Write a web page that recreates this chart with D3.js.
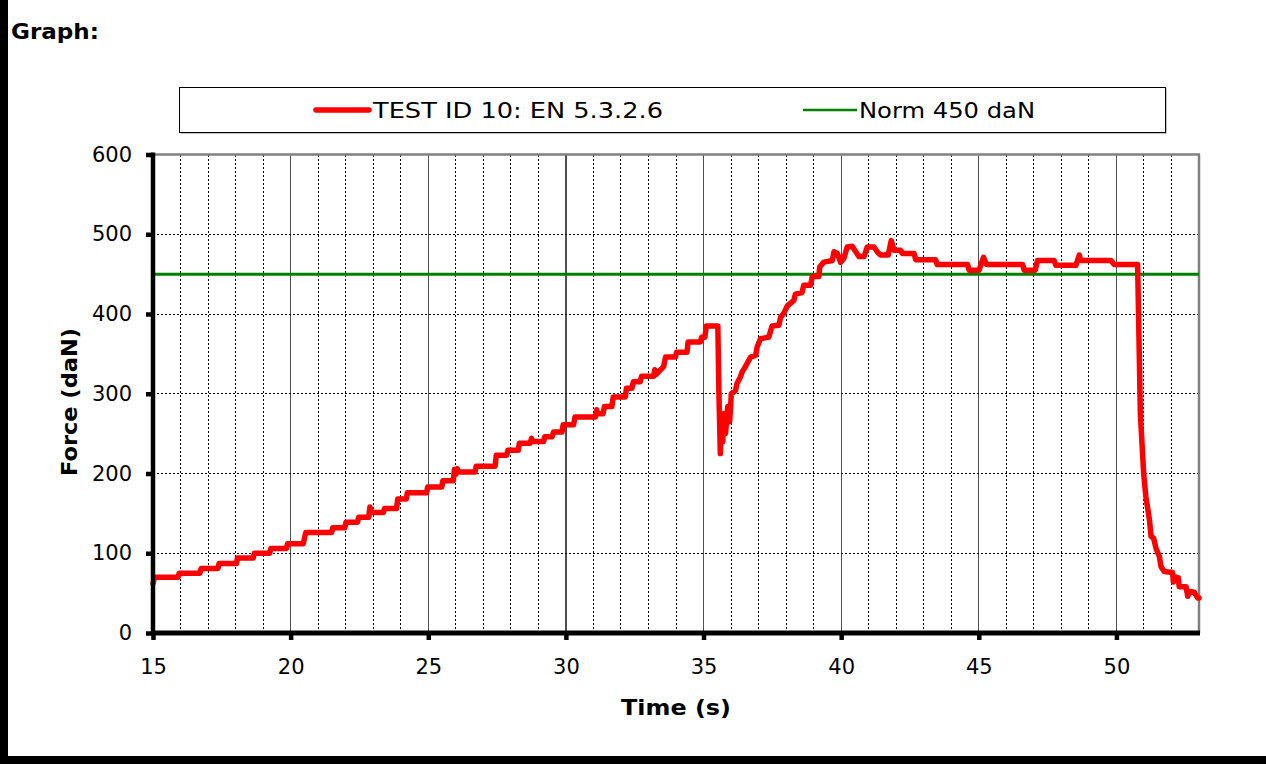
<!DOCTYPE html>
<html>
<head>
<meta charset="utf-8">
<script src="https://cdn.jsdelivr.net/npm/d3@7/dist/d3.min.js"></script>
<style>
  html, body { margin: 0; padding: 0; background: #fff; }
  svg { display: block; }
</style>
</head>
<body>
<script>
// ---- data ----
const seriesName = "TEST ID 10: EN 5.3.2.6";
const normName = "Norm 450 daN";
const normValue = 450;
const xTicks = [15, 20, 25, 30, 35, 40, 45, 50];
const yTicks = [0, 100, 200, 300, 400, 500, 600];
const times = [15.00,15.05,15.91,15.95,16.70,16.75,17.36,17.40,18.03,18.07,18.64,18.68,19.24,19.28,19.85,19.89,20.46,20.55,21.49,21.53,21.97,22.01,22.43,22.47,22.84,22.88,22.93,23.37,23.41,23.85,23.89,24.20,24.24,24.94,24.98,25.49,25.53,25.91,25.95,26.00,26.05,26.10,26.70,26.74,27.43,27.47,27.85,27.89,28.27,28.31,28.70,28.75,28.80,29.19,29.23,29.50,29.55,29.86,29.90,30.28,30.33,31.07,31.12,31.16,31.35,31.40,31.67,31.72,32.16,32.20,32.40,32.45,32.70,32.75,33.19,33.23,33.27,33.55,33.62,33.98,34.02,34.40,34.44,34.89,34.93,35.05,35.10,35.52,35.56,35.61,35.66,35.70,35.73,35.80,35.88,35.95,36.01,36.16,36.22,36.34,36.40,36.52,36.71,36.89,36.95,37.07,37.37,37.49,37.74,37.80,37.92,38.04,38.28,38.34,38.58,38.64,38.89,38.95,39.19,39.22,39.37,39.68,39.74,39.86,39.98,40.10,40.22,40.40,40.53,40.65,40.83,40.95,41.19,41.31,41.43,41.71,41.82,41.92,42.16,42.22,42.65,42.71,43.43,43.49,44.59,44.65,45.01,45.17,45.28,46.59,46.65,47.05,47.13,47.74,47.80,48.53,48.65,48.71,49.80,49.92,50.77,50.83,50.87,50.99,51.07,51.20,51.26,51.35,51.44,51.56,51.62,51.74,52.04,52.07,52.16,52.25,52.28,52.53,52.59,52.65,52.83,52.95,53.00];
const forces = [62,70,70,75,75,81,81,87,87,94,94,100,100,106,106,112,112,126,126,132,132,139,139,145,145,158,151,151,156,156,168,168,176,176,183,183,191,191,205,199,206,202,202,209,209,223,223,229,229,238,238,244,240,240,246,246,252,252,261,261,271,271,280,275,275,284,284,296,296,307,307,315,315,322,322,330,324,334,346,346,352,352,365,365,371,371,385,385,300,225,275,240,275,250,284,265,300,304,313,321,327,334,346,348,359,369,371,385,386,396,401,410,417,425,427,436,436,447,447,459,465,467,478,476,465,470,484,485,478,472,472,484,484,478,474,474,492,480,480,476,476,468,468,462,462,455,455,471,462,462,455,455,467,467,461,461,474,467,467,462,462,350,275,200,171,142,121,119,106,96,83,77,76,64,70,69,58,58,46,52,51,44,44];

// ---- layout ----
const W = 1266, H = 764;
const L = 153, R = 1199, T = 154.5, B = 633;
const FONT = "Verdana, 'DejaVu Sans', sans-serif";

const svg = d3.select("body").append("svg").attr("width", W).attr("height", H)
  .style("font-family", FONT);

svg.append("rect").attr("width", W).attr("height", H).attr("fill", "#fff");

// page border (left & bottom)
svg.append("rect").attr("x", 0).attr("y", 0).attr("width", 8).attr("height", H).attr("fill", "#000");
svg.append("rect").attr("x", 0).attr("y", 756).attr("width", W).attr("height", 8).attr("fill", "#000");

svg.append("text").attr("x", 11).attr("y", 39).attr("font-weight", "bold").attr("font-size", 22)
  .attr("textLength", 88).attr("lengthAdjust", "spacingAndGlyphs")
  .attr("fill", "#000").text("Graph:");

const x = d3.scaleLinear().domain([15, 53]).range([L, R]);
const y = d3.scaleLinear().domain([0, 600]).range([B, T]);

// grid
const g = svg.append("g");
const minorX = d3.range(16, 53, 1).filter(v => v % 5 !== 0);
g.selectAll(".vmin").data(minorX).enter().append("line")
  .attr("x1", d => x(d)).attr("x2", d => x(d)).attr("y1", T).attr("y2", B)
  .attr("stroke", "#000").attr("stroke-width", 1).attr("stroke-dasharray", "2,2")
  .attr("shape-rendering", "crispEdges");
g.selectAll(".vmaj").data(xTicks.filter(v => v > 15)).enter().append("line")
  .attr("x1", d => x(d)).attr("x2", d => x(d)).attr("y1", T).attr("y2", B)
  .attr("stroke", "#505050").attr("stroke-width", 1.3).attr("shape-rendering", "crispEdges");
g.selectAll(".hgrid").data(yTicks.filter(v => v > 0 && v < 600)).enter().append("line")
  .attr("x1", L).attr("x2", R).attr("y1", d => y(d)).attr("y2", d => y(d))
  .attr("stroke", "#000").attr("stroke-width", 1).attr("stroke-dasharray", "2,2")
  .attr("shape-rendering", "crispEdges");

// top & right border
svg.append("line").attr("x1", L).attr("x2", R + 1).attr("y1", T).attr("y2", T)
  .attr("stroke", "#808080").attr("stroke-width", 2.5);
svg.append("line").attr("x1", R).attr("x2", R).attr("y1", T).attr("y2", B)
  .attr("stroke", "#808080").attr("stroke-width", 2.5);

// series
const pts = times.map((t, i) => [t, forces[i]]);
const line = d3.line().x(d => x(d[0])).y(d => y(d[1]));
svg.append("line").attr("x1", L).attr("x2", R).attr("y1", y(normValue)).attr("y2", y(normValue))
  .attr("stroke", "#008000").attr("stroke-width", 3);
svg.append("path").datum(pts).attr("d", line).attr("fill", "none")
  .attr("stroke", "#ff0000").attr("stroke-width", 5.5)
  .attr("stroke-linejoin", "round").attr("stroke-linecap", "round");

// axes
const yAxis = d3.axisLeft(y).tickValues(yTicks).tickSize(7).tickPadding(14).tickFormat(d3.format("d"));
const ya = svg.append("g").attr("transform", `translate(${L},0)`).call(yAxis);
ya.select(".domain").attr("stroke", "#000").attr("stroke-width", 4.5).attr("d", `M0,${T - 2}V${B + 2}`);
ya.selectAll(".tick line").attr("stroke", "#000").attr("stroke-width", 4.5);
ya.selectAll("text").attr("font-size", 21).attr("fill", "#000").attr("font-family", FONT);

const xAxis = d3.axisBottom(x).tickValues(xTicks).tickSize(7).tickPadding(19).tickFormat(d3.format("d"));
const xa = svg.append("g").attr("transform", `translate(0,${B})`).call(xAxis);
xa.select(".domain").attr("stroke", "#000").attr("stroke-width", 5).attr("d", `M${L - 2},0H${R + 1}`);
xa.selectAll(".tick line").attr("stroke", "#000").attr("stroke-width", 4.5);
xa.selectAll("text").attr("font-size", 21).attr("fill", "#000").attr("font-family", FONT);

// axis titles
svg.append("text").attr("x", 676).attr("y", 715).attr("text-anchor", "middle")
  .attr("font-weight", "bold").attr("font-size", 22)
  .attr("textLength", 110).attr("lengthAdjust", "spacingAndGlyphs").text("Time (s)");
svg.append("text").attr("transform", `translate(77,402) rotate(-90)`).attr("text-anchor", "middle")
  .attr("font-weight", "bold").attr("font-size", 22)
  .attr("textLength", 148).attr("lengthAdjust", "spacingAndGlyphs").text("Force (daN)");

// legend
const lg = svg.append("g");
lg.append("rect").attr("x", 180.5).attr("y", 88.5).attr("width", 986).attr("height", 45)
  .attr("fill", "#808080");
lg.append("rect").attr("x", 179.5).attr("y", 87.5).attr("width", 986).attr("height", 45)
  .attr("fill", "#fff").attr("stroke", "#000").attr("stroke-width", 1);
lg.append("line").attr("x1", 316).attr("x2", 369).attr("y1", 110).attr("y2", 110)
  .attr("stroke", "#ff0000").attr("stroke-width", 5.5).attr("stroke-linecap", "round");
lg.append("text").attr("x", 373).attr("y", 118).attr("font-size", 22)
  .attr("textLength", 290).attr("lengthAdjust", "spacingAndGlyphs").text(seriesName);
lg.append("line").attr("x1", 803).attr("x2", 857).attr("y1", 110).attr("y2", 110)
  .attr("stroke", "#008000").attr("stroke-width", 2.5);
lg.append("text").attr("x", 859).attr("y", 118).attr("font-size", 22)
  .attr("textLength", 176).attr("lengthAdjust", "spacingAndGlyphs").text(normName);
</script>
</body>
</html>
